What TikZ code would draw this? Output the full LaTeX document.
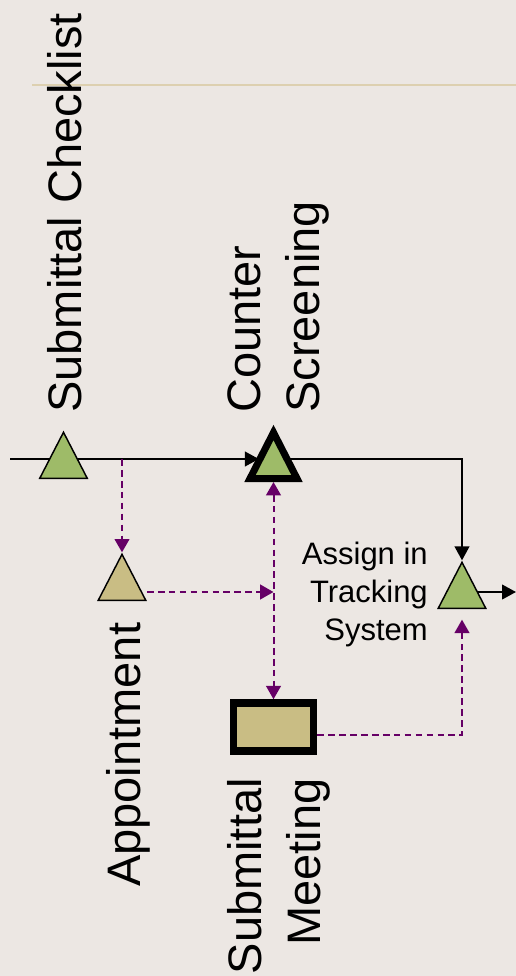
\documentclass[tikz,border=0pt]{standalone}
\usepackage{fontspec}
\setmainfont{Liberation Sans}
\usetikzlibrary{arrows.meta,shapes.geometric,backgrounds}
\definecolor{paper}{RGB}{236,231,227}
\definecolor{leaf}{RGB}{158,187,104}
\definecolor{sand}{RGB}{201,189,132}
\definecolor{plum}{RGB}{102,0,102}
\definecolor{rulecol}{RGB}{221,208,176}

\begin{document}
\begin{tikzpicture}[x=0.75pt,y=-0.75pt,
  tri/.style={isosceles triangle,isosceles triangle stretches,shape border rotate=90,anchor=lower side,
    minimum width=35.6pt,minimum height=34.5pt,inner sep=0,draw=black,line width=1.1pt},
  bigtri/.style={tri,minimum width=35.25pt,minimum height=34.5pt,line width=5.25pt},
  flow/.style={line width=1.5pt,-{Triangle[length=10.5pt,width=11pt]}},
  dashflow/.style={plum,line width=1.5pt,dash pattern=on 5pt off 3.2pt,-{Triangle[length=10pt,width=11pt]}},
  biglabel/.style={rotate=90,inner sep=0,font=\fontsize{35.25pt}{44.25pt}\selectfont},
  smalllabel/.style={inner sep=0,font=\fontsize{23.25pt}{28.5pt}\selectfont}]
\useasboundingbox (0,0) rectangle (516,976);
\begin{scope}[on background layer]
\fill[paper] (0,0) rectangle (516,976);
\draw[rulecol,line width=1.5pt] (32,85) -- (516,85);
\end{scope}

\node[tri,fill=leaf] (chk) at (63.5,479) {};
\node[tri,fill=sand] (appt) at (122,601) {};
\node[bigtri,fill=leaf] (screen) at (273.5,482) {};
\node[tri,fill=leaf] (track) at (462,609) {};
\node[draw=black,fill=sand,line width=5.6pt,minimum width=60pt,minimum height=36pt,inner sep=0] (meet) at (273.5,727) {};

\coordinate (in) at (10,459);
\coordinate (join) at (273.5,592);
\coordinate (out) at (516,592);

\begin{scope}[on background layer]
\draw[flow] (in) -- (in -| screen.left side);
\draw[flow] (screen.center |- in) -| (track.apex);
\draw[flow] (track.center |- out) -- (out);
\draw[dashflow] (appt.apex |- in) -- (appt.apex);
\draw[dashflow] (appt.right corner |- join) -- (join);
\draw[dashflow,{Triangle[length=10pt,width=11pt]}-{Triangle[length=10pt,width=11pt]}] (screen.lower side) -- (meet.north);
\draw[dashflow] ([yshift=-6pt]meet.east) -| ([yshift=-8pt]track.lower side);
\end{scope}

\node[biglabel,anchor=base west] (chkLabel) at (81,413) {Submittal Checklist};
\node[biglabel,align=left,anchor=north west] (screenLabel) at (227,413) {Counter\\Screening};
\node[biglabel,anchor=base west] (apptLabel) at (140,887) {Appointment};
\node[biglabel,align=right,anchor=north east] (meetLabel) at (227,778) {Submittal\\Meeting};
\node[smalllabel,align=right,anchor=north east] (trackLabel) at (428,542) {Assign in\\Tracking\\System};
\end{tikzpicture}
\end{document}
